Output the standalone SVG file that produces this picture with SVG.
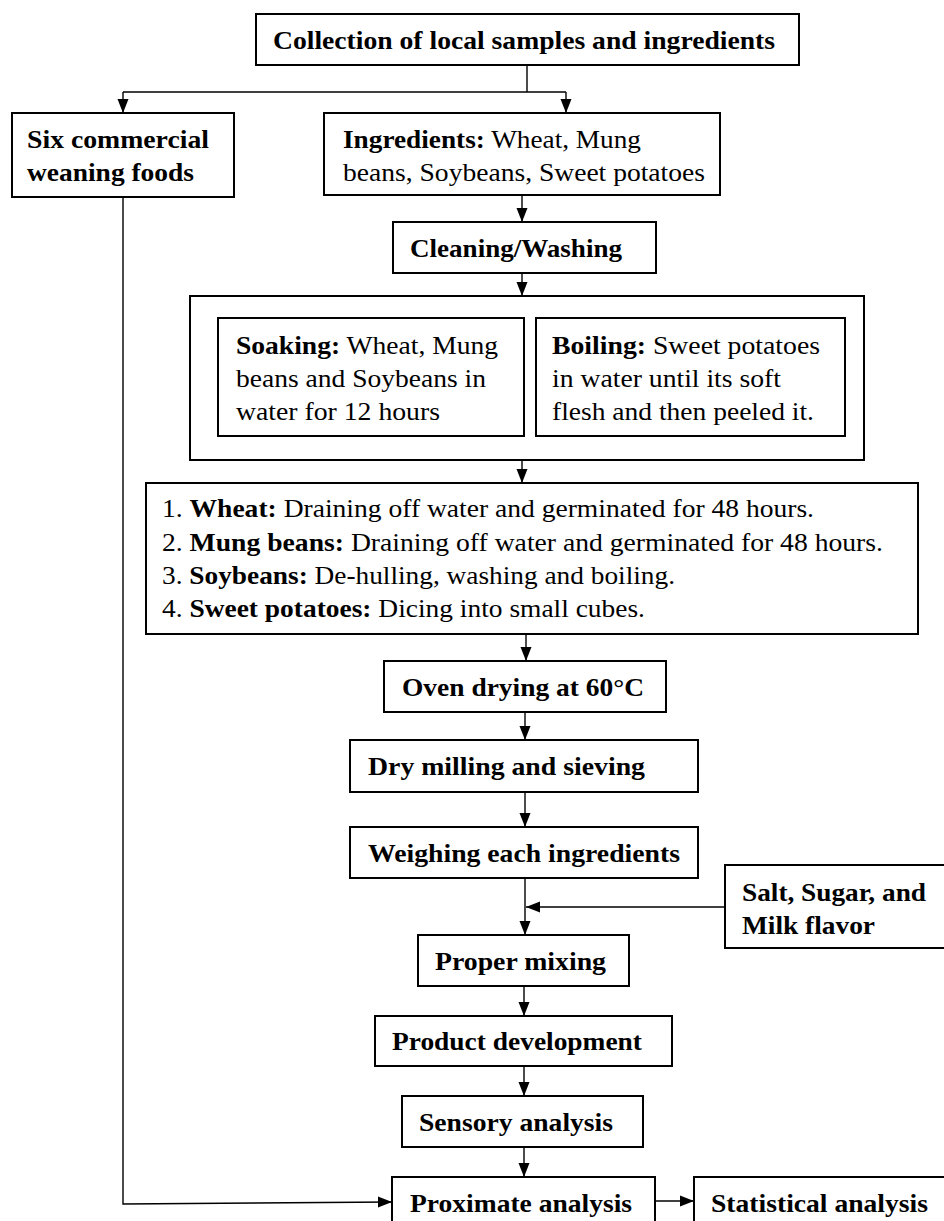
<svg xmlns="http://www.w3.org/2000/svg" width="944" height="1221" viewBox="0 0 944 1221">
<style>
.box{fill:#fff;stroke:#000;stroke-width:2}
.ln{fill:none;stroke:#000;stroke-width:1.4}
text{font-family:"Liberation Serif","Times New Roman",serif;font-size:26px;fill:#000}
.b{font-weight:bold}
</style>
<defs>
<marker id="ah" markerUnits="userSpaceOnUse" markerWidth="14" markerHeight="12" refX="14" refY="6" viewBox="0 0 14 12" orient="auto">
<path d="M0,0.5 L14,6 L0,11.5 Z" fill="#000"/>
</marker>
</defs>
<rect width="944" height="1221" fill="#fff"/>

<g id="connectors">
<path class="ln" d="M527,66 V92 M123,92 H566"/>
<path class="ln" d="M123,92 V113" marker-end="url(#ah)"/>
<path class="ln" d="M566,92 V113" marker-end="url(#ah)"/>
<path class="ln" d="M522,195 V222" marker-end="url(#ah)"/>
<path class="ln" d="M522,273 V296" marker-end="url(#ah)"/>
<path class="ln" d="M190,378 H218 M845,378 H864"/>
<path class="ln" d="M522,460 V483" marker-end="url(#ah)"/>
<path class="ln" d="M526,634 V661" marker-end="url(#ah)"/>
<path class="ln" d="M525,712 V740" marker-end="url(#ah)"/>
<path class="ln" d="M525,792 V827" marker-end="url(#ah)"/>
<path class="ln" d="M525,878 V935" marker-end="url(#ah)"/>
<path class="ln" d="M725,907 H526" marker-end="url(#ah)"/>
<path class="ln" d="M524,986 V1016" marker-end="url(#ah)"/>
<path class="ln" d="M524,1066 V1096" marker-end="url(#ah)"/>
<path class="ln" d="M524,1147 V1177" marker-end="url(#ah)"/>
<path class="ln" d="M123,197 V1204 L392,1202" marker-end="url(#ah)"/>
<path class="ln" d="M655,1201 H694" marker-end="url(#ah)"/>
</g>

<g id="n-collection">
<rect class="box" x="256" y="14" width="543" height="51"/>
<text class="b" x="273" y="49" textLength="502" lengthAdjust="spacingAndGlyphs">Collection of local samples and ingredients</text>
</g>

<g id="n-commercial">
<rect class="box" x="12" y="113" width="222" height="84"/>
<text class="b" x="27" y="148" textLength="182" lengthAdjust="spacingAndGlyphs">Six commercial</text>
<text class="b" x="27" y="181" textLength="167" lengthAdjust="spacingAndGlyphs">weaning foods</text>
</g>

<g id="n-ingredients">
<rect class="box" x="324" y="113" width="396" height="82"/>
<text x="343" y="148" textLength="298" lengthAdjust="spacingAndGlyphs"><tspan class="b">Ingredients:</tspan> Wheat, Mung</text>
<text x="343" y="181" textLength="362" lengthAdjust="spacingAndGlyphs">beans, Soybeans, Sweet potatoes</text>
</g>

<g id="n-cleaning">
<rect class="box" x="393" y="222" width="263" height="51"/>
<text class="b" x="410" y="257" textLength="212" lengthAdjust="spacingAndGlyphs">Cleaning/Washing</text>
</g>

<g id="n-pretreat">
<rect class="box" x="190" y="296" width="674" height="164"/>
<g id="n-soaking">
<rect class="box" x="218" y="318" width="306" height="118"/>
<text x="236" y="354" textLength="262" lengthAdjust="spacingAndGlyphs"><tspan class="b">Soaking:</tspan> Wheat, Mung</text>
<text x="236" y="387" textLength="250" lengthAdjust="spacingAndGlyphs">beans and Soybeans in</text>
<text x="236" y="420" textLength="204" lengthAdjust="spacingAndGlyphs">water for 12 hours</text>
</g>
<g id="n-boiling">
<rect class="box" x="536" y="318" width="309" height="118"/>
<text x="552" y="354" textLength="268" lengthAdjust="spacingAndGlyphs"><tspan class="b">Boiling:</tspan> Sweet potatoes</text>
<text x="552" y="387" textLength="229" lengthAdjust="spacingAndGlyphs">in water until its soft</text>
<text x="552" y="420" textLength="262" lengthAdjust="spacingAndGlyphs">flesh and then peeled it.</text>
</g>
</g>

<g id="n-steps">
<rect class="box" x="146" y="483" width="772" height="151"/>
<text x="162" y="517" textLength="652" lengthAdjust="spacingAndGlyphs">1. <tspan class="b">Wheat:</tspan> Draining off water and germinated for 48 hours.</text>
<text x="162" y="551" textLength="721" lengthAdjust="spacingAndGlyphs">2. <tspan class="b">Mung beans:</tspan> Draining off water and germinated for 48 hours.</text>
<text x="162" y="584" textLength="513" lengthAdjust="spacingAndGlyphs">3. <tspan class="b">Soybeans:</tspan> De-hulling, washing and boiling.</text>
<text x="162" y="617" textLength="483" lengthAdjust="spacingAndGlyphs">4. <tspan class="b">Sweet potatoes:</tspan> Dicing into small cubes.</text>
</g>

<g id="n-oven">
<rect class="box" x="384" y="661" width="282" height="51"/>
<text class="b" x="402" y="696" textLength="242" lengthAdjust="spacingAndGlyphs">Oven drying at 60°C</text>
</g>

<g id="n-milling">
<rect class="box" x="350" y="740" width="348" height="52"/>
<text class="b" x="368" y="775" textLength="277" lengthAdjust="spacingAndGlyphs">Dry milling and sieving</text>
</g>

<g id="n-weighing">
<rect class="box" x="350" y="827" width="348" height="51"/>
<text class="b" x="368" y="862" textLength="312" lengthAdjust="spacingAndGlyphs">Weighing each ingredients</text>
</g>

<g id="n-salt">
<rect class="box" x="725" y="865" width="240" height="83"/>
<text class="b" x="742" y="901" textLength="184" lengthAdjust="spacingAndGlyphs">Salt, Sugar, and</text>
<text class="b" x="742" y="934" textLength="133" lengthAdjust="spacingAndGlyphs">Milk flavor</text>
</g>

<g id="n-mixing">
<rect class="box" x="418" y="935" width="211" height="51"/>
<text class="b" x="435" y="970" textLength="171" lengthAdjust="spacingAndGlyphs">Proper mixing</text>
</g>

<g id="n-product">
<rect class="box" x="375" y="1016" width="297" height="50"/>
<text class="b" x="392" y="1050" textLength="250" lengthAdjust="spacingAndGlyphs">Product development</text>
</g>

<g id="n-sensory">
<rect class="box" x="402" y="1096" width="241" height="51"/>
<text class="b" x="419" y="1131" textLength="194" lengthAdjust="spacingAndGlyphs">Sensory analysis</text>
</g>

<g id="n-proximate">
<rect class="box" x="392" y="1177" width="263" height="60"/>
<text class="b" x="410" y="1212" textLength="222" lengthAdjust="spacingAndGlyphs">Proximate analysis</text>
</g>

<g id="n-statistical">
<rect class="box" x="694" y="1177" width="270" height="60"/>
<text class="b" x="711" y="1212" textLength="217" lengthAdjust="spacingAndGlyphs">Statistical analysis</text>
</g>
</svg>
